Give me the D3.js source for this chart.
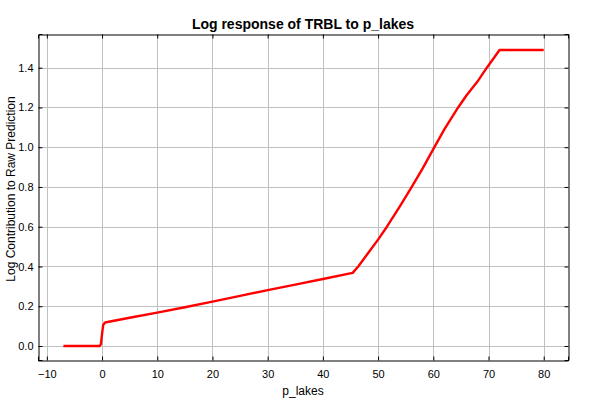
<!DOCTYPE html>
<html>
<head>
<meta charset="utf-8">
<script src="https://cdn.jsdelivr.net/npm/d3@7"></script>
<style>
  body { margin: 0; background: #fff; }
  svg { display: block; font-family: "Liberation Sans", Arial, sans-serif; }
</style>
</head>
<body>
<svg id="chart" width="600" height="400"></svg>
<script>
// ---- data ----
const pLakes = [-7, -0.4, -0.2, 0, 0.2, 0.5, 1, 5, 10, 15, 20, 25, 30, 35, 40, 45.4,
  46.4, 48, 50, 51.6, 54, 56.1, 58, 60, 62, 64.5, 66, 68, 69.7, 71, 72, 80];
const logContribution = [0, 0, 0.01, 0.06, 0.105, 0.117, 0.121, 0.142, 0.168, 0.195, 0.223, 0.252, 0.281, 0.309, 0.337, 0.368,
  0.4, 0.46, 0.535, 0.6, 0.705, 0.8, 0.89, 0.99, 1.09, 1.2, 1.26, 1.33, 1.4, 1.45, 1.489, 1.489];
const xTicks = [-10, 0, 10, 20, 30, 40, 50, 60, 70, 80];
const yTicks = [0, 0.2, 0.4, 0.6, 0.8, 1.0, 1.2, 1.4];
const titleText = "Log response of TRBL to p_lakes";
const xLabel = "p_lakes";
const yLabel = "Log Contribution to Raw Prediction";

// ---- layout ----
const W = 600, H = 400;
const m = { left: 38, right: 32, top: 34, bottom: 40 };
const svg = d3.select("#chart");

const x = d3.scaleLinear().domain([-11.6, 84.4]).range([m.left, W - m.right]);
const y = d3.scaleLinear().domain([-0.0704, 1.5695]).range([H - m.bottom, m.top]);

const g = svg.append("g");

// gridlines
g.append("g").selectAll("line").data(xTicks).join("line")
  .attr("x1", d => Math.round(x(d)) + 0.5).attr("x2", d => Math.round(x(d)) + 0.5)
  .attr("y1", m.top).attr("y2", H - m.bottom)
  .attr("stroke", "#c0c0c0").attr("stroke-width", 1);
g.append("g").selectAll("line").data(yTicks).join("line")
  .attr("y1", d => Math.round(y(d)) + 0.5).attr("y2", d => Math.round(y(d)) + 0.5)
  .attr("x1", m.left).attr("x2", W - m.right)
  .attr("stroke", "#c0c0c0").attr("stroke-width", 1);

// curve
const line = d3.line().x((d, i) => x(pLakes[i])).y(d => y(d));
g.append("path").datum(logContribution)
  .attr("d", line)
  .attr("fill", "none")
  .attr("stroke", "#ff0000")
  .attr("stroke-width", 2.4)
  .attr("stroke-linejoin", "round");

// axes
const fontSize = 11;
const xAxisB = d3.axisBottom(x).tickValues(xTicks).tickSize(-4).tickPadding(10).tickFormat(d3.format("d"));
const xAxisT = d3.axisTop(x).tickValues(xTicks).tickSize(-4).tickFormat("");
const yAxisL = d3.axisLeft(y).tickValues(yTicks).tickSize(-4).tickPadding(5).tickFormat(d3.format(".1f"));
const yAxisR = d3.axisRight(y).tickValues(yTicks).tickSize(-4).tickFormat("");

function style(sel) {
  sel.selectAll("path").attr("stroke", "#000").attr("stroke-width", 1);
  sel.selectAll("line").attr("stroke", "#000");
  sel.selectAll("text").attr("fill", "#000").style("font-size", fontSize + "px")
    .style("font-family", '"Liberation Sans", Arial, sans-serif');
  sel.attr("font-family", null);
}
svg.append("g").attr("transform", `translate(0,${H - m.bottom + 0.5})`).call(xAxisB).call(style);
svg.append("g").attr("transform", `translate(0,${m.top + 0.5})`).call(xAxisT).call(style);
svg.append("g").attr("transform", `translate(${m.left + 0.5},0)`).call(yAxisL).call(style);
svg.append("g").attr("transform", `translate(${W - m.right + 0.5},0)`).call(yAxisR).call(style);

// title
svg.append("text").attr("x", (m.left + W - m.right) / 2).attr("y", 29)
  .attr("text-anchor", "middle").style("font-size", "14px").style("font-weight", "bold")
  .text(titleText);
// x label
svg.append("text").attr("x", (m.left + W - m.right) / 2).attr("y", 395)
  .attr("text-anchor", "middle").style("font-size", "12px")
  .text(xLabel);
// y label
svg.append("text").attr("transform", `translate(15,${189}) rotate(-90)`)
  .attr("text-anchor", "middle").style("font-size", "12px")
  .text(yLabel);
</script>
</body>
</html>
